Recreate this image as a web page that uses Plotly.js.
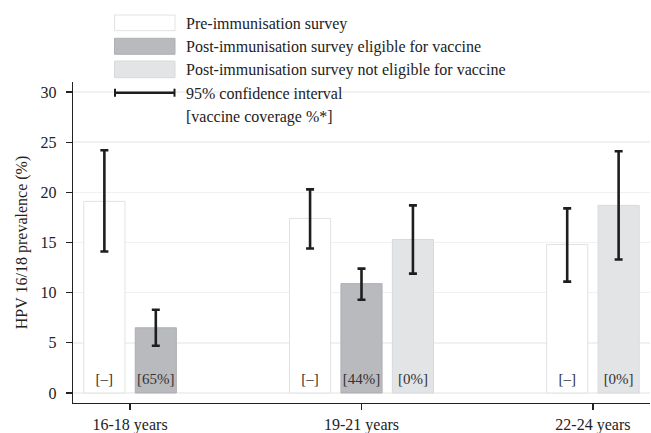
<!DOCTYPE html>
<html>
<head>
<meta charset="utf-8">
<script src="https://cdn.plot.ly/plotly-3.0.1.min.js"></script>
<style>html,body{margin:0;padding:0;background:#fff;}#chart{width:651px;height:433px;}</style>
</head>
<body>
<div id="chart"></div>
<script>
// ---- data ----
var ageGroups = ["16-18 years", "19-21 years", "22-24 years"];
var seriesNames = ["Pre-immunisation survey", "Post-immunisation survey eligible for vaccine", "Post-immunisation survey not eligible for vaccine"];
// null = no bar for that age group
var preValues   = [19.1, 17.4, 14.8];
var preLower    = [14.1, 14.4, 11.1];
var preUpper    = [24.2, 20.3, 18.4];
var preCoverage = ["[\u2013]", "[\u2013]", "[\u2013]"];

var eligValues   = [6.5, 10.9, null];
var eligLower    = [4.7, 9.3, null];
var eligUpper    = [8.3, 12.4, null];
var eligCoverage = ["[65%]", "[44%]", null];

var nonValues   = [null, 15.3, 18.7];
var nonLower    = [null, 11.9, 13.3];
var nonUpper    = [null, 18.7, 24.1];
var nonCoverage = [null, "[0%]", "[0%]"];

var yTicks = [0, 5, 10, 15, 20, 25, 30];
var legendExtra = ["95% confidence interval", "[vaccine coverage %*]"];

// ---- layout of bars: consecutive slots per group, gap between groups ----
var series = [
  {name: seriesNames[0], v: preValues, lo: preLower, hi: preUpper, lab: preCoverage, fill: "#ffffff", line: "#e2e2e2"},
  {name: seriesNames[1], v: eligValues, lo: eligLower, hi: eligUpper, lab: eligCoverage, fill: "#b9babd", line: "#aeafb2"},
  {name: seriesNames[2], v: nonValues, lo: nonLower, hi: nonUpper, lab: nonCoverage, fill: "#e3e4e6", line: "#d8d9db"}
];
var groupGap = 3;
var pos = series.map(function(){ return []; });
var groupCenters = [];
var cursor = 0;
ageGroups.forEach(function(g, gi){
  var used = [];
  series.forEach(function(s, si){
    if (s.v[gi] !== null) { pos[si][gi] = cursor; used.push(cursor); cursor += 1; }
    else pos[si][gi] = null;
  });
  groupCenters.push((used[0] + used[used.length-1]) / 2);
  cursor += groupGap - 1;
});

var FONT = "Liberation Serif, Times New Roman, serif";
var traces = [];
series.forEach(function(s, si){
  var xs = [], ys = [], ep = [], em = [];
  s.v.forEach(function(val, gi){
    if (val === null) return;
    xs.push(pos[si][gi]); ys.push(val);
    ep.push(s.hi[gi] - val); em.push(val - s.lo[gi]);
  });
  traces.push({
    type: "bar", name: s.name, x: xs, y: ys, width: 0.8,
    marker: {color: s.fill, line: {color: s.line, width: 1}},
    error_y: {type: "data", array: ep, arrayminus: em, visible: true, color: "#1e1e1e", thickness: 2.6, width: 4},
    showlegend: false, hoverinfo: "skip"
  });
});
// coverage labels
var lx = [], lt = [];
series.forEach(function(s, si){
  s.lab.forEach(function(t, gi){ if (t !== null) { lx.push(pos[si][gi]); lt.push(t); } });
});
traces.push({
  type: "scatter", mode: "text", x: lx, y: lx.map(function(){ return 1.3; }), text: lt,
  textfont: {family: FONT, size: 15, color: "#333"}, textposition: "middle center",
  showlegend: false, hoverinfo: "skip"
});

// ---- custom legend (pixel coordinates converted to paper) ----
var W = 651, H = 433, mL = 73, mR = 1, mT = 82, mB = 30;
var pw = W - mL - mR, ph = H - mT - mB;
function px(x){ return (x - mL) / pw; }
function py(y){ return (H - mB - y) / ph; }
var shapes = [], annotations = [];
var sw = [[15, 30.7], [38.3, 54.3], [61, 77.7]];
series.forEach(function(s, i){
  shapes.push({type: "rect", xref: "paper", yref: "paper", x0: px(114.5), x1: px(175), y0: py(sw[i][1]), y1: py(sw[i][0]),
    fillcolor: s.fill, line: {color: s.line, width: 1}, layer: "above"});
});
var ciY = 92.7;
shapes.push({type: "line", xref: "paper", yref: "paper", x0: px(114.5), x1: px(175), y0: py(ciY), y1: py(ciY), line: {color: "#1e1e1e", width: 2.6}});
shapes.push({type: "line", xref: "paper", yref: "paper", x0: px(115), x1: px(115), y0: py(ciY - 4), y1: py(ciY + 4), line: {color: "#1e1e1e", width: 2}});
shapes.push({type: "line", xref: "paper", yref: "paper", x0: px(174.5), x1: px(174.5), y0: py(ciY - 4), y1: py(ciY + 4), line: {color: "#1e1e1e", width: 2}});
var legTexts = seriesNames.concat(legendExtra);
var legY = [23.5, 47, 70.5, 93.5, 117];
legTexts.forEach(function(t, i){
  annotations.push({xref: "paper", yref: "paper", x: px(184), y: py(legY[i]), text: t, showarrow: false,
    xanchor: "left", yanchor: "middle", font: {family: FONT, size: 16, color: "#222"}});
});

var layout = {
  width: W, height: H,
  margin: {l: mL, r: mR, t: mT, b: mB, pad: 0},
  paper_bgcolor: "#fff", plot_bgcolor: "#fff",
  barmode: "overlay",
  showlegend: false,
  font: {family: FONT, size: 16, color: "#222"},
  xaxis: {
    range: [-0.61, 10.61], tickmode: "array", tickvals: groupCenters, ticktext: ageGroups,
    showgrid: false, zeroline: false, showline: true, linecolor: "#222", linewidth: 1.4,
    ticks: "outside", ticklen: 6, tickwidth: 1.2, tickcolor: "#222",
    tickfont: {family: FONT, size: 16, color: "#222"}, fixedrange: true
  },
  yaxis: {
    range: [-1, 31], tickmode: "array", tickvals: yTicks,
    showgrid: true, gridcolor: "#f1f1f1", gridwidth: 1.5, zeroline: false,
    showline: true, linecolor: "#222", linewidth: 1.4,
    ticks: "outside", ticklen: 6, tickwidth: 1.2, tickcolor: "#222",
    ticklabelstandoff: 6,
    tickfont: {family: FONT, size: 16, color: "#222"},
    title: {text: "HPV 16/18 prevalence (%)", font: {family: FONT, size: 16, color: "#222"}, standoff: 9},
    fixedrange: true
  },
  shapes: shapes,
  annotations: annotations
};
Plotly.newPlot("chart", traces, layout, {staticPlot: true, displayModeBar: false});
</script>
</body>
</html>
